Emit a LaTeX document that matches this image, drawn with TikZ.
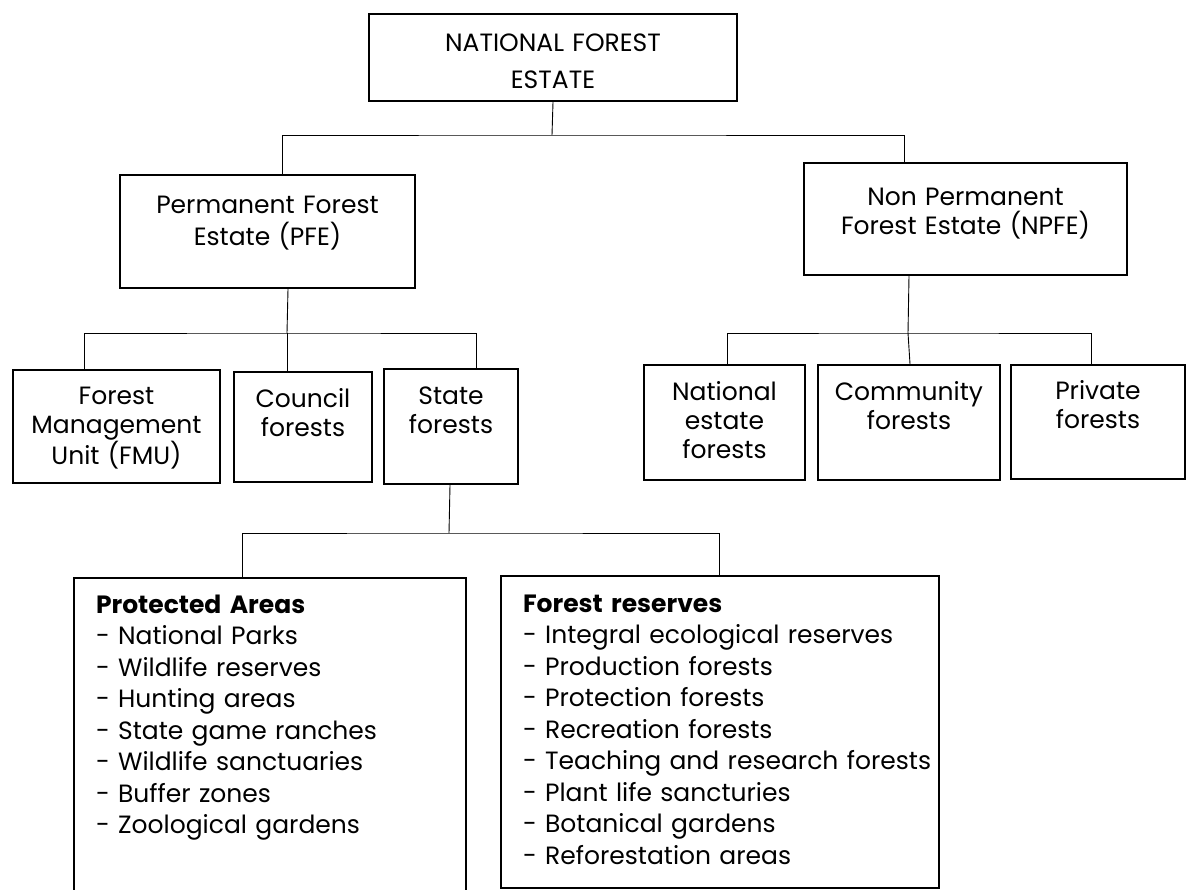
\documentclass[tikz,border=0pt]{standalone}
\usepackage{fontspec}
\setmainfont{Poppins}

\tikzset{
  unit/.style={draw, line width=2pt, inner sep=0pt, align=center, anchor=north west,
    font=\fontsize{25}{29}\selectfont},
  list/.style={unit, align=left, inner xsep=22pt, font=\fontsize{25}{31.5}\selectfont},
  link/.style={line width=0.9pt},
}

\begin{document}
\begin{tikzpicture}[x=1pt,y=-1pt]
\clip (0,0) rectangle (1186,889);
\fill[white] (0,0) rectangle (1186,889);

% top level
\node[unit, text width=368pt, text height=37pt, text depth=50pt,
  font=\fontsize{25}{37}\selectfont] (nfe) at (368,13) {NATIONAL FOREST\\ESTATE};
\node[unit, text width=295pt, text height=38pt, text depth=75pt,
  font=\fontsize{25}{32}\selectfont] (pfe) at (119,174) {Permanent Forest\\Estate (PFE)};
\node[unit, text width=323pt, text height=42pt, text depth=70pt] (npfe) at (803,162) {Non Permanent\\Forest Estate (NPFE)};

% PFE units
\node[unit, text width=207pt, text height=34pt, text depth=79pt] (fmu) at (12,369) {Forest\\Management\\Unit (FMU)};
\node[unit, text width=138pt, text height=35pt, text depth=75pt] (council) at (233,371) {Council\\forests};
\node[unit, text width=134pt, text height=35pt, text depth=80pt] (state) at (383,368) {State\\forests};

% NPFE units
\node[unit, text width=161pt, text height=35pt, text depth=80pt] (natest) at (643,364) {National\\estate\\forests};
\node[unit, text width=182pt, text height=35pt, text depth=80pt] (community) at (817,364) {Community\\forests};
\node[unit, text width=174pt, text height=34pt, text depth=80pt] (private) at (1010,364) {Private\\forests};

% state forests
\node[list, text width=348pt, text height=35pt, text depth=283pt] (protected) at (73,577)
  {\textbf{Protected Areas}\\- National Parks\\- Wildlife reserves\\- Hunting areas\\- State game ranches\\- Wildlife sanctuaries\\- Buffer zones\\- Zoological gardens};
\node[list, text width=394pt, text height=36pt, text depth=276pt] (reserves) at (500,575)
  {\textbf{Forest reserves}\\- Integral ecological reserves\\- Production forests\\- Protection forests\\- Recreation forests\\\mbox{- Teaching and research forests}\\- Plant life sancturies\\- Botanical gardens\\- Reforestation areas};

% connectors
\coordinate (j1) at (552,135);
\coordinate (j2) at (287,333);
\coordinate (j3) at (908,333);
\coordinate (j4) at (449,533);

\draw[link] (nfe.south) -- (j1);
\draw[link] ([xshift=14.5pt]pfe.north) |- (j1) -| ([xshift=-61.5pt]npfe.north);

\draw[link] ([xshift=20.5pt]pfe.south) -- (j2);
\draw[link] ([xshift=-32.5pt]fmu.north) |- (j2) -| ([xshift=25pt]state.north);
\draw[link] (j2) -- ([xshift=-16pt]council.north);

\draw[link] ([xshift=-56.5pt]npfe.south) -- (j3);
\draw[link] ([xshift=2.5pt]natest.north) |- (j3) -| ([xshift=-7pt]private.north);
\draw[link] (j3) -- ([xshift=1pt]community.north);

\draw[link] ([xshift=-1pt]state.south) -- (j4);
\draw[link] ([xshift=-28pt]protected.north) |- (j4) -| ([xshift=-1pt]reserves.north);
\end{tikzpicture}
\end{document}
